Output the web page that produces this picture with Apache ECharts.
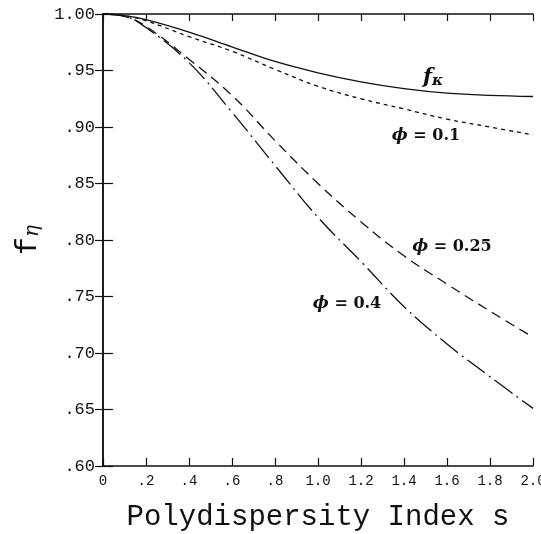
<!DOCTYPE html>
<html>
<head>
<meta charset="utf-8">
<script src="https://cdn.jsdelivr.net/npm/echarts@6/dist/echarts.min.js"></script>
<style>
  html, body { margin: 0; padding: 0; background: #fff; overflow: hidden; }
  #chart { width: 541px; height: 534px; }
</style>
</head>
<body>
<div id="chart"></div>
<script>
// polydispersity index s
const sValues = [0, 0.1, 0.2, 0.4, 0.6, 0.8, 1.0, 1.2, 1.4, 1.6, 1.8, 2.0]
// f_kappa and f_eta curves
const fKappa = [1.0, 0.9985, 0.995, 0.984, 0.971, 0.958, 0.948, 0.940, 0.934, 0.930, 0.928, 0.927]
const phi01 = [1.0, 0.9985, 0.994, 0.980, 0.967, 0.951, 0.936, 0.925, 0.916, 0.907, 0.900, 0.893]
const phi025 = [1.0, 0.998, 0.989, 0.960, 0.928, 0.888, 0.850, 0.816, 0.786, 0.761, 0.737, 0.714]
const phi04 = [1.0, 0.998, 0.988, 0.957, 0.913, 0.866, 0.820, 0.781, 0.741, 0.708, 0.679, 0.651]

const xTickLabels = ['0', '.2', '.4', '.6', '.8', '1.0', '1.2', '1.4', '1.6', '1.8', '2.0']
const yTickLabels = ['.60', '.65', '.70', '.75', '.80', '.85', '.90', '.95', '1.00']

// where the curve labels sit, in data units
const labelAt = {
  fk: [1.535, 0.9434],
  p01: [1.502, 0.892],
  p025: [1.623, 0.7938],
  p04: [1.135, 0.7434]
}

const chart = echarts.init(document.getElementById('chart'))

const serif = 'DejaVu Serif'
const labelRich = {
  phi: { fontFamily: serif, fontStyle: 'italic', fontWeight: 'bold', fontSize: 17, color: '#111' },
  t: { fontFamily: serif, fontWeight: 'bold', fontSize: 16, color: '#111' },
  f: { fontFamily: serif, fontStyle: 'italic', fontWeight: 'bold', fontSize: 21, color: '#111' },
  k: { fontFamily: serif, fontStyle: 'italic', fontWeight: 'bold', fontSize: 15, color: '#111', padding: [7, 0, 0, 0] }
}

function pairs(ys) {
  return sValues.map((s, i) => [s, ys[i]])
}

function tag(pos, text) {
  return {
    silent: true,
    symbol: 'circle',
    symbolSize: 1,
    itemStyle: { color: 'rgba(0,0,0,0)' },
    data: [{
      coord: pos,
      label: { show: true, position: 'inside', formatter: text, rich: labelRich }
    }]
  }
}

function curve(name, ys, type, pos, text) {
  return {
    name: name,
    type: 'line',
    data: pairs(ys),
    smooth: 0.4,
    symbol: 'none',
    lineStyle: { color: '#111', width: 1.3, type: type },
    markPoint: tag(pos, text),
    z: 3
  }
}

const tickStyle = { color: '#111', width: 1.2 }

chart.setOption({
  animation: false,
  backgroundColor: '#fff',
  grid: { left: 103, right: 8, top: 14, bottom: 68, containLabel: false, outerBoundsMode: 'none' },
  xAxis: [
    {
      type: 'value',
      min: 0,
      max: 2,
      interval: 0.2,
      name: 'Polydispersity Index s',
      nameLocation: 'middle',
      nameGap: 37,
      nameTextStyle: { fontFamily: 'Liberation Mono', fontSize: 29, color: '#111' },
      axisLine: { lineStyle: { color: '#111', width: 1.5 } },
      axisTick: { inside: true, length: 8, lineStyle: tickStyle },
      axisLabel: {
        margin: 8,
        fontFamily: 'Liberation Mono',
        fontSize: 14,
        color: '#111',
        formatter: v => xTickLabels[Math.round(v / 0.2)]
      },
      splitLine: { show: false }
    },
    {
      type: 'value',
      position: 'top',
      min: 0,
      max: 2,
      interval: 0.2,
      axisLine: { lineStyle: { color: '#111', width: 1.5 } },
      axisTick: { inside: true, length: 7, lineStyle: tickStyle },
      axisLabel: { show: false },
      splitLine: { show: false }
    }
  ],
  yAxis: [
    {
      type: 'value',
      min: 0.6,
      max: 1.0,
      interval: 0.05,
      name: '{f|f}{e|η}',
      nameLocation: 'middle',
      nameRotate: 90,
      nameGap: 58,
      nameTextStyle: {
        rich: {
          f: { fontFamily: 'Liberation Mono', fontSize: 30, color: '#111' },
          e: { fontFamily: serif, fontStyle: 'italic', fontSize: 20, color: '#111', padding: [10, 0, 0, 0] }
        }
      },
      axisLine: { lineStyle: { color: '#111', width: 1.5 } },
      axisTick: { inside: true, length: 10, lineStyle: tickStyle },
      axisLabel: {
        margin: 8,
        fontFamily: 'Liberation Mono',
        fontSize: 17,
        color: '#111',
        formatter: v => yTickLabels[Math.round((v - 0.6) / 0.05)]
      },
      splitLine: { show: false }
    },
    {
      type: 'value',
      position: 'right',
      min: 0.6,
      max: 1.0,
      interval: 0.05,
      axisLine: { lineStyle: { color: '#111', width: 1.5 } },
      axisTick: { inside: true, length: 8, lineStyle: tickStyle },
      axisLabel: { show: false },
      splitLine: { show: false }
    }
  ],
  series: [
    curve('f_kappa', fKappa, 'solid', labelAt.fk, '{f|f}{k|κ}'),
    curve('phi=0.1', phi01, [4, 4], labelAt.p01, '{phi|ϕ}{t| = 0.1}'),
    curve('phi=0.25', phi025, [10, 6], labelAt.p025, '{phi|ϕ}{t| = 0.25}'),
    curve('phi=0.4', phi04, [22, 5, 2, 5], labelAt.p04, '{phi|ϕ}{t| = 0.4}')
  ]
})
</script>
</body>
</html>
